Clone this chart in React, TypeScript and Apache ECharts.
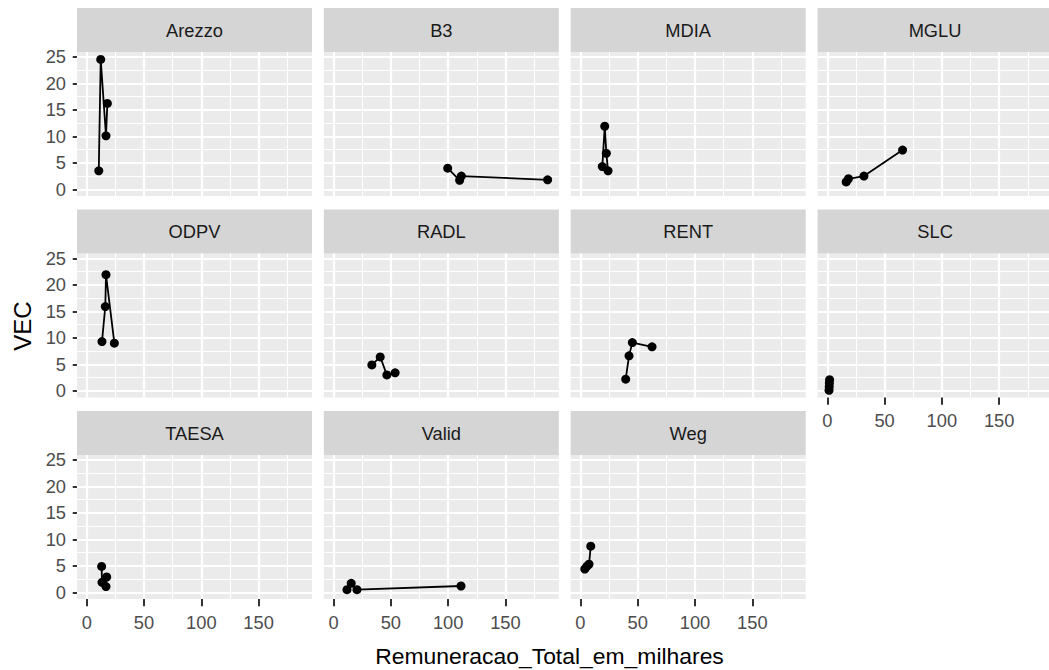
import React, { useEffect, useRef } from "react";
import * as echarts from "echarts";

// ---- Data (Remuneracao_Total_em_milhares = x, VEC = y), sorted by x as geom_line does ----
const companies = ["Arezzo", "B3", "MDIA", "MGLU", "ODPV", "RADL", "RENT", "SLC", "TAESA", "Valid", "Weg"];

const xArezzo = [10.5, 12.2, 16.8, 18.0];
const yArezzo = [3.5, 24.5, 10.1, 16.2];
const xB3 = [99.6, 110.0, 111.5, 186.8];
const yB3 = [4.0, 1.7, 2.5, 1.8];
const xMDIA = [19.1, 21.2, 22.6, 24.1];
const yMDIA = [4.3, 11.9, 6.8, 3.5];
const xMGLU = [16.5, 18.5, 32.0, 65.7];
const yMGLU = [1.4, 2.0, 2.5, 7.4];
const xODPV = [13.3, 16.2, 16.8, 24.1];
const yODPV = [9.3, 15.9, 21.9, 9.0];
const xRADL = [33.4, 40.7, 46.5, 53.7];
const yRADL = [4.9, 6.4, 3.0, 3.4];
const xRENT = [39.5, 42.4, 45.3, 62.5];
const yRENT = [2.2, 6.6, 9.1, 8.3];
const xSLC = [1.5, 1.7, 1.8, 2.0];
const ySLC = [0.1, 0.8, 1.5, 2.1];
const xTAESA = [13.0, 13.3, 16.8, 17.4];
const yTAESA = [4.9, 1.9, 1.1, 2.9];
const xValid = [11.7, 15.4, 20.4, 111.2];
const yValid = [0.5, 1.7, 0.5, 1.2];
const xWeg = [3.8, 5.5, 7.5, 9.0];
const yWeg = [4.4, 4.9, 5.3, 8.7];

const xValues = [xArezzo, xB3, xMDIA, xMGLU, xODPV, xRADL, xRENT, xSLC, xTAESA, xValid, xWeg];
const yValues = [yArezzo, yB3, yMDIA, yMGLU, yODPV, yRADL, yRENT, ySLC, yTAESA, yValid, yWeg];

// ---- Scales / ticks ----
const X_MIN = -8.5;
const X_MAX = 196.6;
const Y_MIN = -1.25;
const Y_MAX = 25.9;
const xMajor = [0, 50, 100, 150];
const xMinor = [25, 75, 125, 175];
const yMajor = [0, 5, 10, 15, 20, 25];
const yMinor = [2.5, 7.5, 12.5, 17.5, 22.5];

const xTitle = "Remuneracao_Total_em_milhares";
const yTitle = "VEC";

// ---- Layout ----
const FONT = "'Liberation Sans', Arial, sans-serif";
const PANEL_LEFT0 = 77;
const COL_STEP = 246.85;
const PANEL_W = 235;
const ROW_TOPS = [8, 209.5, 411];
const STRIP_H = 44;
const PANEL_H = 144;

export default function App() {
  const ref = useRef<HTMLDivElement>(null);

  useEffect(() => {
    if (!ref.current) return;
    const chart = echarts.init(ref.current, undefined, { renderer: "svg" });

    const grids: any[] = [];
    const xAxes: any[] = [];
    const yAxes: any[] = [];
    const series: any[] = [];
    const graphics: any[] = [];

    const gridLines = [
      ...xMajor.map((v) => ({ xAxis: v, lineStyle: { color: "#FFFFFF", width: 2.2, type: "solid" } })),
      ...xMinor.map((v) => ({ xAxis: v, lineStyle: { color: "#FFFFFF", width: 1.1, type: "solid" } })),
      ...yMajor.map((v) => ({ yAxis: v, lineStyle: { color: "#FFFFFF", width: 2.2, type: "solid" } })),
      ...yMinor.map((v) => ({ yAxis: v, lineStyle: { color: "#FFFFFF", width: 1.1, type: "solid" } })),
    ];

    companies.forEach((name, i) => {
      const row = Math.floor(i / 4);
      const col = i % 4;
      const left = PANEL_LEFT0 + col * COL_STEP;
      const top = ROW_TOPS[row] + STRIP_H;
      const showX = row === 2 || (row === 1 && col === 3);
      const showY = col === 0;

      grids.push({
        left,
        top,
        width: PANEL_W,
        height: PANEL_H,
        show: true,
        backgroundColor: "#EBEBEB",
        borderWidth: 0,
        containLabel: false,
        outerBoundsMode: "none",
      });

      xAxes.push({
        type: "value",
        gridIndex: i,
        min: X_MIN,
        max: X_MAX,
        axisLine: { show: false },
        splitLine: { show: false },
        axisTick: {
          show: showX,
          inside: false,
          customValues: xMajor,
          length: 14,
          lineStyle: { color: "#333333", width: 2 },
        },
        axisLabel: {
          show: showX,
          customValues: xMajor,
          margin: 14,
          color: "#4D4D4D",
          fontSize: 18.3,
          fontFamily: FONT,
        },
      });

      yAxes.push({
        type: "value",
        gridIndex: i,
        min: Y_MIN,
        max: Y_MAX,
        axisLine: { show: false },
        splitLine: { show: false },
        axisTick: {
          show: showY,
          inside: false,
          customValues: yMajor,
          length: 14,
          lineStyle: { color: "#333333", width: 2 },
        },
        axisLabel: {
          show: showY,
          customValues: yMajor,
          margin: 11,
          color: "#4D4D4D",
          fontSize: 18.3,
          fontFamily: FONT,
        },
      });

      series.push({
        type: "line",
        name,
        xAxisIndex: i,
        yAxisIndex: i,
        data: xValues[i].map((xv, k) => [xv, yValues[i][k]]),
        symbol: "circle",
        symbolSize: 9,
        itemStyle: { color: "#000000" },
        lineStyle: { color: "#000000", width: 1.8 },
        z: 3,
        silent: true,
        markLine: {
          silent: true,
          z: 1,
          symbol: ["none", "none"],
          label: { show: false },
          emphasis: { disabled: true },
          animation: false,
          data: gridLines,
        },
      });

      // strip
      graphics.push({
        type: "rect",
        shape: { x: left, y: ROW_TOPS[row], width: PANEL_W, height: STRIP_H },
        style: { fill: "#D5D5D5" },
        silent: true,
      });
      graphics.push({
        type: "text",
        x: left + PANEL_W / 2,
        y: ROW_TOPS[row] + STRIP_H / 2,
        style: {
          text: name,
          fill: "#1A1A1A",
          fontSize: 18.3,
          fontFamily: FONT,
          align: "center",
          verticalAlign: "middle",
        },
        silent: true,
      });
    });

    graphics.push({
      type: "text",
      x: 549.5,
      y: 656,
      style: {
        text: xTitle,
        fill: "#000000",
        fontSize: 22.9,
        fontFamily: FONT,
        align: "center",
        verticalAlign: "middle",
      },
      silent: true,
    });
    graphics.push({
      type: "text",
      x: 22,
      y: 326,
      rotation: Math.PI / 2,
      style: {
        text: yTitle,
        fill: "#000000",
        fontSize: 24,
        fontFamily: FONT,
        align: "center",
        verticalAlign: "middle",
      },
      silent: true,
    });

    chart.setOption({
      animation: false,
      backgroundColor: "#FFFFFF",
      grid: grids,
      xAxis: xAxes,
      yAxis: yAxes,
      series,
      graphic: graphics,
    });

    return () => chart.dispose();
  }, []);

  return (
    <div
      ref={ref}
      style={{ position: "fixed", left: 0, top: 0, width: 1060, height: 670, background: "#FFFFFF" }}
    />
  );
}
